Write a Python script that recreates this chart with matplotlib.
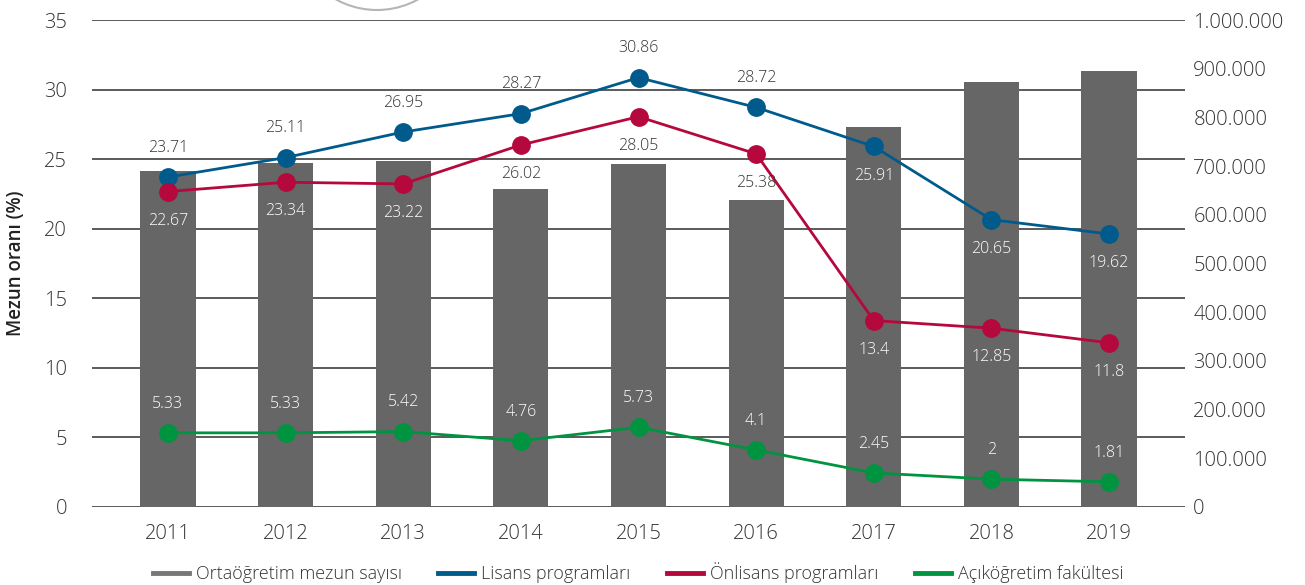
import matplotlib
matplotlib.use("Agg")
import matplotlib.pyplot as plt
from matplotlib.lines import Line2D
from matplotlib.patches import Ellipse
from matplotlib.ticker import FuncFormatter, MultipleLocator
import numpy as np

plt.rcParams['font.family'] = ['Open Sans', 'DejaVu Sans']
plt.rcParams['font.weight'] = 'light'

years = ['2011', '2012', '2013', '2014', '2015', '2016', '2017', '2018', '2019']
ortaogretim = [690000, 707000, 711000, 654000, 705000, 631000, 781000, 872000, 895000]
lisans = [23.71, 25.11, 26.95, 28.27, 30.86, 28.72, 25.91, 20.65, 19.62]
onlisans = [22.67, 23.34, 23.22, 26.02, 28.05, 25.38, 13.4, 12.85, 11.8]
acik = [5.33, 5.33, 5.42, 4.76, 5.73, 4.1, 2.45, 2, 1.81]

series_names = ['Ortaöğretim mezun sayısı', 'Lisans programları',
                'Önlisans programları', 'Açıköğretim fakültesi']

# style
c_bar = '#666666'
c_lis = '#005b8c'
c_onl = '#b5083c'
c_acik = '#009440'
c_text = '#333333'
lis_pos = [1, 1, 1, 1, 1, 1, -1, -1, -1]
onl_pos = [-1] * 9
acik_pos = [1] * 9

W, H = 1305, 585
fig = plt.figure(figsize=(W / 100, H / 100), dpi=100)
L, R, T, B = 92, 1185, 20, 507
ax = fig.add_axes([L / W, 1 - B / H, (R - L) / W, (B - T) / H])
axb = ax.twinx()
axl = ax.twinx()

x = np.arange(len(years))
xlim = (-0.645, len(years) - 1 + 0.645)

# base axis: left scale + grid
ax.set_xlim(*xlim)
ax.set_ylim(0, 35)
ax.yaxis.set_major_locator(MultipleLocator(5))
ax.grid(axis='y', color='#5a5a5a', lw=1.4)
ax.set_axisbelow(True)
ax.tick_params(axis='y', length=0, pad=18, labelsize=14.5, labelcolor=c_text)
ax.tick_params(axis='x', length=0, pad=12, labelsize=14.5, labelcolor=c_text)
ax.set_xticks(x)
ax.set_xticklabels(years)
for s in ax.spines.values():
    s.set_visible(False)
ax.set_ylabel('Mezun oranı (%)', fontsize=13.5, color='#222222',
              fontweight='semibold', labelpad=13)

# bars on right scale
axb.set_xlim(*xlim)
axb.set_ylim(0, 1000000)
axb.bar(x, ortaogretim, width=0.47, color=c_bar, zorder=2)
axb.yaxis.set_major_locator(MultipleLocator(100000))
axb.yaxis.set_major_formatter(FuncFormatter(lambda v, p: f'{int(v):,}'.replace(',', '.')))
axb.tick_params(axis='y', length=0, pad=6, labelsize=14.5, labelcolor=c_text)
axb.patch.set_visible(False)
for s in axb.spines.values():
    s.set_visible(False)

# lines on left scale (top layer)
axl.set_xlim(*xlim)
axl.set_ylim(0, 35)
axl.set_yticks([])
axl.patch.set_visible(False)
for s in axl.spines.values():
    s.set_visible(False)

bar_left_units = [v / 1000000 * 35 for v in ortaogretim]
off_pts = 21
off_units = off_pts / 0.72 / ((B - T) / 35)

for vals, col, pos in [(lisans, c_lis, lis_pos), (onlisans, c_onl, onl_pos), (acik, c_acik, acik_pos)]:
    axl.plot(x, vals, color=col, lw=2.0, marker='o', ms=12.5, zorder=3)
    for i, v in enumerate(vals):
        lab_y = v + pos[i] * off_units
        inside = lab_y < bar_left_units[i] - 0.3
        tc = 'white' if inside else c_text
        axl.annotate(f'{v:g}', (x[i], v), xytext=(0, pos[i] * off_pts),
                     textcoords='offset points', ha='center', va='center',
                     fontsize=11.5, color=tc, zorder=4)

handles = [Line2D([], [], color=c, lw=3.5) for c in [c_bar, c_lis, c_onl, c_acik]]
handles[0].set_color('#777777')
fig.legend(handles, series_names, loc='center', bbox_to_anchor=(0.489, 0.021),
           ncol=4, frameon=False, fontsize=13, handlelength=2.0,
           handletextpad=0.4, columnspacing=2.0, labelcolor=c_text)

# decorative arc at top
fig.patches.append(Ellipse((377 / W, 1 + 75 / H), 2 * 85 / W, 2 * 85 / H,
                           transform=fig.transFigure, fill=False,
                           edgecolor='#b5b5b5', lw=1.5, clip_on=False))

fig.savefig('out.png', dpi=100)
